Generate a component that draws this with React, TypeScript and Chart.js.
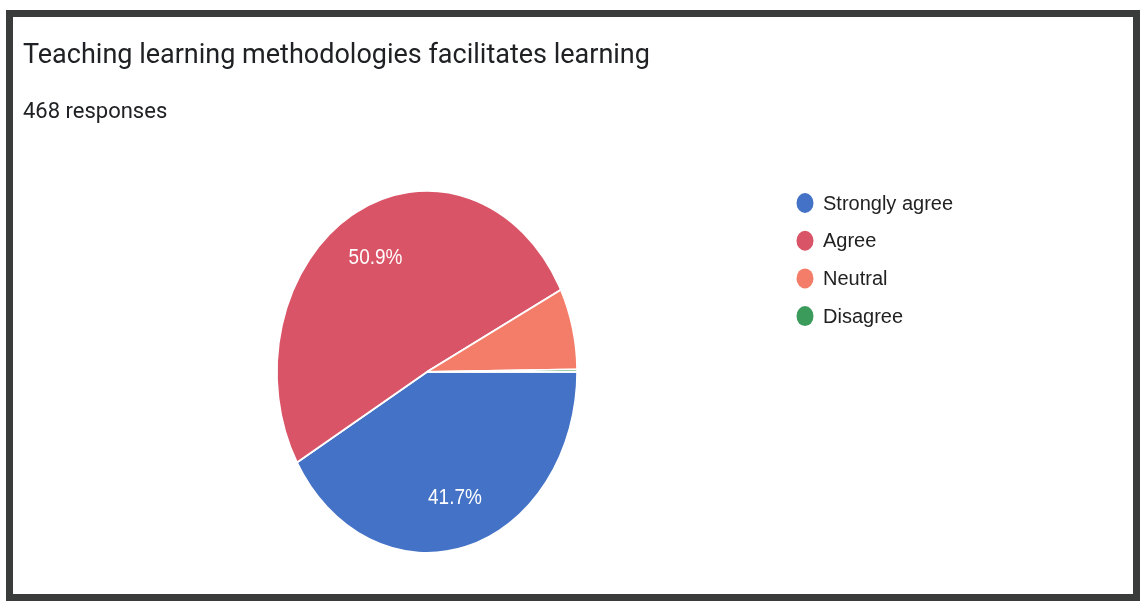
import React, { useEffect, useRef } from 'react';
import { Chart, registerables } from 'chart.js';

Chart.register(...registerables);

const TITLE = 'Teaching learning methodologies facilitates learning';
const SUBTITLE = '468 responses';
const categories = ['Strongly agree', 'Agree', 'Neutral', 'Disagree'];
const responses = [195, 238, 34, 1];
const sliceColors = ['#4372c6', '#da5467', '#f47d69', '#3b9b5b'];

const ELLIPSE_Y = 1.207;
const LABEL_FONT = '19px "Liberation Sans", Arial, sans-serif';
const LEGEND_FONT = '20px "Liberation Sans", Arial, sans-serif';

const ellipsePiePlugin = {
  id: 'ellipsePie',
  beforeDatasetsDraw(chart: any) {
    const arc = chart.getDatasetMeta(0).data[0];
    const ctx = chart.ctx;
    ctx.save();
    if (!arc) return;
    const { x, y } = arc;
    ctx.translate(x, y);
    ctx.scale(1, ELLIPSE_Y);
    ctx.translate(-x, -y);
  },
  afterDatasetsDraw(chart: any) {
    const meta = chart.getDatasetMeta(0);
    const ctx = chart.ctx;
    const values: number[] = chart.data.datasets[0].data;
    const total = values.reduce((a, b) => a + b, 0);
    ctx.font = LABEL_FONT;
    ctx.fillStyle = '#ffffff';
    ctx.textAlign = 'center';
    ctx.textBaseline = 'middle';
    meta.data.forEach((arc: any, i: number) => {
      const pct = (values[i] / total) * 100;
      if (pct < 10) return;
      const { x, y, startAngle, endAngle, outerRadius } = arc.getProps(
        ['x', 'y', 'startAngle', 'endAngle', 'outerRadius'],
        true
      );
      const mid = (startAngle + endAngle) / 2;
      const r = outerRadius * 0.72;
      ctx.fillText(pct.toFixed(1) + '%', x + Math.cos(mid) * r, y + Math.sin(mid) * r);
    });
    ctx.restore();
  },
};

const sideLegendPlugin = {
  id: 'sideLegend',
  afterDraw(chart: any, _args: any, opts: any) {
    const ctx = chart.ctx;
    const labels: string[] = chart.data.labels;
    const colors: string[] = chart.data.datasets[0].backgroundColor;
    ctx.save();
    ctx.font = LEGEND_FONT;
    ctx.textAlign = 'left';
    ctx.textBaseline = 'middle';
    labels.forEach((label, i) => {
      const cy = opts.top + i * opts.rowGap;
      ctx.beginPath();
      ctx.ellipse(opts.x, cy, 8.5, 10, 0, 0, Math.PI * 2);
      ctx.fillStyle = colors[i];
      ctx.fill();
      ctx.fillStyle = '#222222';
      ctx.fillText(label, opts.x + 18, cy + 1);
    });
    ctx.restore();
  },
};

export default function App() {
  const canvasRef = useRef<HTMLCanvasElement | null>(null);

  useEffect(() => {
    if (!canvasRef.current) return;
    const chart = new Chart(canvasRef.current, {
      type: 'pie',
      data: {
        labels: categories,
        datasets: [
          {
            data: responses,
            backgroundColor: sliceColors,
            borderColor: '#ffffff',
            borderWidth: 1.5,
            radius: 150,
          },
        ],
      },
      options: {
        responsive: false,
        animation: false,
        devicePixelRatio: 1,
        events: [],
        rotation: 90,
        layout: { padding: { left: 10, right: 302, top: 0, bottom: 0 } },
        plugins: {
          legend: { display: false },
          tooltip: { enabled: false },
          title: {
            display: true,
            text: TITLE,
            align: 'start',
            color: '#202124',
            font: { family: 'Roboto', size: 27, weight: 'normal', lineHeight: 1.2 },
            padding: { top: 22.8, bottom: 0 },
          },
          subtitle: {
            display: true,
            text: SUBTITLE,
            align: 'start',
            color: '#202124',
            font: { family: 'Roboto', size: 22, weight: 'normal', lineHeight: 1.2 },
            padding: { top: 27.1, bottom: 0 },
          },
          sideLegend: { x: 792, top: 186, rowGap: 37.7 },
        } as any,
      },
      plugins: [ellipsePiePlugin, sideLegendPlugin],
    });
    return () => chart.destroy();
  }, []);

  return (
    <div
      style={{
        position: 'absolute',
        left: 6,
        top: 10,
        width: 1134,
        height: 591,
        border: '7px solid #3a3c3b',
        boxSizing: 'border-box',
        overflow: 'hidden',
        background: '#ffffff',
      }}
    >
      <canvas
        ref={canvasRef}
        width={1120}
        height={601}
        style={{ position: 'absolute', left: 0, top: 0 }}
      />
    </div>
  );
}
